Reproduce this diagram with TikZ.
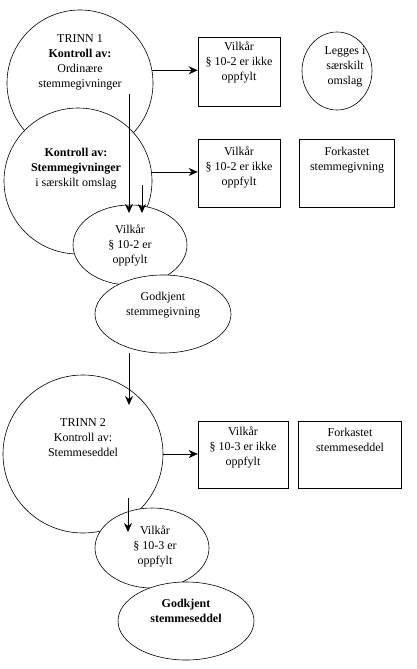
\documentclass[tikz,border=0pt]{standalone}
\usepackage{fontspec}
\setmainfont{Liberation Serif}
\usetikzlibrary{shapes.geometric,arrows.meta}
\tikzset{every node/.style={font=\fontsize{12}{15}\selectfont,align=center},
         stage/.style={draw,ellipse,fill=white,inner sep=0pt},
         rulebox/.style={draw,rectangle,fill=white,inner sep=0pt},
         txt/.style={inner sep=0pt},
         arr/.style={-{Stealth[length=9pt,width=8pt]}}}

\begin{document}
\begin{tikzpicture}[x=1pt,y=-1pt,line width=0.6pt]
      \useasboundingbox (0,0) rectangle (417,669);
      % trinn 1
      \node[stage,minimum width=146pt,minimum height=146pt] (trinnA) at (80,83) {};
      \node[stage,minimum width=148pt,minimum height=146pt] (kontrollB) at (78,181) {};
      \node[stage,minimum width=114pt,minimum height=80pt] (vilkaarA) at (130,245)
            {Vilkår\\§ 10-2 er\\oppfylt};
      \node[stage,minimum width=136pt,minimum height=78pt] (godkjentA) at (163,314) {};
      \node[rulebox,minimum width=82pt,minimum height=69pt] (ikkeA) at (239,72) {};
      \node[stage,minimum width=70pt,minimum height=78pt] (legges) at (337,71) {};
      \node[rulebox,minimum width=82pt,minimum height=68pt] (ikkeB) at (239,173) {};
      \node[rulebox,minimum width=95pt,minimum height=68pt] (forkastetB) at (347,173) {};
      \node[txt] (trinnA-txt) at (80,62) {TRINN 1\\\textbf{Kontroll av:}\\Ordinære\\stemmegivninger};
      \node[txt] (kontrollB-txt) at (76,169) {\textbf{Kontroll av:}\\\textbf{Stemmegivninger}\\i særskilt omslag};
      \node[txt] (godkjentA-txt) at (163,305) {Godkjent\\stemmegivning};
      \node[txt] (ikkeA-txt) at (239,62) {Vilkår\\§ 10-2 er ikke\\oppfylt};
      \node[txt] (legges-txt) at (345,67) {Legges i\\særskilt\\omslag};
      \node[txt] (ikkeB-txt) at (239,167) {Vilkår\\§ 10-2 er ikke\\oppfylt};
      \node[txt] (forkastetB-txt) at (347,160) {Forkastet\\stemmegivning};
      % trinn 2
      \node[stage,minimum width=160pt,minimum height=158pt] (trinnC) at (83,454) {};
      \node[stage,minimum width=114pt,minimum height=80pt] (vilkaarC) at (152,548) {};
      \node[stage,minimum width=136pt,minimum height=78pt] (godkjentC) at (186,621) {};
      \node[rulebox,minimum width=90pt,minimum height=67pt] (ikkeC) at (243,455) {};
      \node[rulebox,minimum width=103pt,minimum height=67pt] (forkastetC) at (350,455) {};
      \node[txt] (trinnC-txt) at (83,438) {TRINN 2\\Kontroll av:\\Stemmeseddel};
      \node[txt] (vilkaarC-txt) at (155,546) {Vilkår\\§ 10-3 er\\oppfylt};
      \node[txt] (godkjentC-txt) at (186,611) {\textbf{Godkjent}\\\textbf{stemmeseddel}};
      \node[txt] (ikkeC-txt) at (243,447) {Vilkår\\§ 10-3 er ikke\\oppfylt};
      \node[txt] (forkastetC-txt) at (350,440) {Forkastet\\stemmeseddel};
      % arrows
      \coordinate (fromA) at (129,94);
      \coordinate (toA) at (129,213);
      \coordinate (fromB) at (142,185);
      \coordinate (toB) at (142,213);
      \coordinate (fromG) at (129,353);
      \coordinate (toG) at (129,405);
      \coordinate (fromC) at (128,498);
      \coordinate (toC) at (128,532);
      \draw[arr] (trinnA.10) -- (trinnA.10 -| ikkeA.west);
      \draw[arr] (kontrollB.7) -- (kontrollB.7 -| ikkeB.west);
      \draw[arr] (fromA) -- (toA);
      \draw[arr] (fromB) -- (toB);
      \draw[arr] (fromG) -- (toG);
      \draw[arr] (trinnC.east) -- (trinnC.east -| ikkeC.west);
      \draw[arr] (fromC) -- (toC);
\end{tikzpicture}
\end{document}
